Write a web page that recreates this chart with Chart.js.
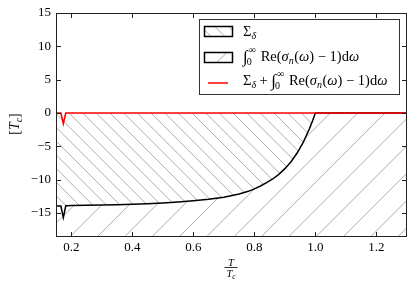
<!DOCTYPE html>
<html><head><meta charset="utf-8">
<script src="https://cdn.jsdelivr.net/npm/chart.js@4/dist/chart.umd.min.js"></script>
<style>html,body{margin:0;padding:0;background:#fff}canvas{display:block}</style>
</head><body>
<canvas id="c" width="415" height="282"></canvas>
<script>
// ---- data ----
const T = [0.15, 0.16, 0.166, 0.174, 0.182, 0.19, 0.2, 0.25, 0.3, 0.35, 0.4, 0.45, 0.5, 0.55, 0.6, 0.65, 0.7, 0.75, 0.78, 0.8, 0.82, 0.84, 0.86, 0.88, 0.9, 0.92, 0.94, 0.96, 0.98, 0.99, 1.0, 1.05, 1.1, 1.2, 1.3];
const sigmaDelta = [-13.95, -13.95, -13.95, -15.7, -13.92, -13.9, -13.88, -13.85, -13.8, -13.75, -13.68, -13.6, -13.5, -13.35, -13.15, -12.95, -12.65, -12.15, -11.75, -11.38, -10.95, -10.45, -9.9, -9.2, -8.35, -7.3, -6.0, -4.4, -2.4, -1.25, 0, 0, 0, 0, 0];
const total = [0, 0, 0, -1.6, 0, 0, 0, 0, 0, 0, 0, 0, 0, 0, 0, 0, 0, 0, 0, 0, 0, 0, 0, 0, 0, 0, 0, 0, 0, 0, 0, 0, 0, 0, 0];
const xTicks = [0.2, 0.4, 0.6, 0.8, 1.0, 1.2];
const yTicks = [-15, -10, -5, 0, 5, 10, 15];
const xRange = [0.15, 1.3];
const yRange = [-18.6, 15];

// ---- hatch patterns ----
function hatch(dir, n, phase) {
  const N = 82, p = N / n;
  const c = document.createElement('canvas');
  c.width = N; c.height = N;
  const g = c.getContext('2d');
  g.strokeStyle = '#adadad'; g.lineWidth = 1;
  g.beginPath();
  for (let k = -n - 2; k <= 2 * n + 2; k++) {
    const d = phase + k * p;
    if (dir === '/') { g.moveTo(d + 10, -10); g.lineTo(d - N - 10, N + 10); }
    else { g.moveTo(d - 10, -10); g.lineTo(d + N + 10, N + 10); }
  }
  g.stroke();
  return g.createPattern(c, 'repeat');
}
const ctx0 = document.getElementById('c').getContext('2d');
const hatchBack = hatch('\\', 6, 10.7);
const hatchFwd = hatch('/', 3, 6);

const SERIF = '"Liberation Serif", "DejaVu Serif", serif';

function drawRun(ctx, items, x, y, measureOnly) {
  let cx = x;
  for (const it of items) {
    ctx.font = (it.i ? 'italic ' : '') + it.s + 'px ' + SERIF;
    const w = ctx.measureText(it.t).width;
    if (!measureOnly) ctx.fillText(it.t, cx + (it.dx || 0), y + (it.dy || 0));
    if (!it.noAdvance) cx += w + (it.gap || 0);
  }
  return cx - x;
}

const fs = 14.5, ss = 10;
function integralRun() {
  return [
    {t: '\u222B', s: 17, dy: 1, gap: -1},
    {t: '\u221E', s: ss, dy: -8, noAdvance: true, dx: 2},
    {t: '0', s: ss, dy: 4},
    {t: '', s: ss, gap: 9},
    {t: 'Re(', s: fs},
    {t: '\u03C3', s: fs, i: true},
    {t: 'n', s: ss, i: true, dy: 3, gap: 0.5},
    {t: '(', s: fs},
    {t: '\u03C9', s: fs, i: true},
    {t: ') \u2212 1)d', s: fs},
    {t: '\u03C9', s: fs, i: true}
  ];
}
const sigmaRun = [
  {t: '\u03A3', s: fs},
  {t: '\u03B4', s: ss, i: true, dy: 3}
];

const decor = {
  id: 'decor',
  afterDatasetsDraw(chart) {
    const {ctx, chartArea: a, scales: {x, y}} = chart;
    ctx.save();
    ctx.strokeStyle = '#222'; ctx.lineWidth = 1;
    const L = Math.round(a.left) + 0.5, R = Math.round(a.right) - 0.5, Tp = Math.round(a.top) + 0.5, B = Math.round(a.bottom) - 0.5;
    ctx.strokeRect(L, Tp, R - L, B - Tp);
    ctx.beginPath();
    const tl = 4.5;
    xTicks.forEach(v => { const px = Math.round(x.getPixelForValue(v)) + 0.5; ctx.moveTo(px, B); ctx.lineTo(px, B - tl); ctx.moveTo(px, Tp); ctx.lineTo(px, Tp + tl); });
    yTicks.forEach(v => { const py = Math.round(y.getPixelForValue(v)) + 0.5; ctx.moveTo(L, py); ctx.lineTo(L + tl, py); ctx.moveTo(R, py); ctx.lineTo(R - tl, py); });
    ctx.stroke();
    ctx.restore();
  },
  afterDraw(chart) {
    const ctx = chart.ctx;
    ctx.save();
    ctx.textBaseline = 'alphabetic';
    ctx.textAlign = 'left';
    // legend box
    ctx.fillStyle = '#fff';
    ctx.fillRect(199.5, 19.5, 200, 75);
    ctx.strokeStyle = '#333'; ctx.lineWidth = 1;
    ctx.strokeRect(199.5, 19.5, 200, 75);
    // patches
    ctx.fillStyle = hatchBack; ctx.fillRect(204.5, 26.5, 28, 10);
    ctx.fillStyle = hatchFwd; ctx.fillRect(204.5, 52.5, 28, 10);
    ctx.strokeStyle = '#000'; ctx.lineWidth = 1.5;
    ctx.strokeRect(204.5, 26.5, 28, 10);
    ctx.strokeRect(204.5, 52.5, 28, 10);
    ctx.strokeStyle = '#ff0000'; ctx.lineWidth = 1.5;
    ctx.beginPath(); ctx.moveTo(208, 83); ctx.lineTo(228, 83); ctx.stroke();
    // legend text
    ctx.fillStyle = '#000';
    drawRun(ctx, sigmaRun, 243, 35.5);
    drawRun(ctx, integralRun(), 243, 61);
    const w1 = drawRun(ctx, sigmaRun.concat([{t: '', s: fs, gap: 3.5}, {t: '+', s: fs, gap: 3.5}]), 243, 85);
    drawRun(ctx, integralRun(), 243 + w1, 85);
    // y title [T_c]
    const yt = [{t: '[', s: 14}, {t: 'T', s: 14, i: true}, {t: 'c', s: ss, i: true, dy: 3}, {t: ']', s: 14}];
    ctx.save();
    ctx.translate(19, 124); ctx.rotate(-Math.PI / 2);
    const wy = drawRun(ctx, yt, 0, 0, true);
    drawRun(ctx, yt, -wy / 2, 0);
    ctx.restore();
    // x title T / T_c
    const top = [{t: 'T', s: 10.5, i: true}];
    const bot = [{t: 'T', s: 10.5, i: true}, {t: 'c', s: 7.5, i: true, dy: 2}];
    const cxm = 231;
    const wt = drawRun(ctx, top, 0, 0, true);
    drawRun(ctx, top, cxm - wt / 2, 265.5);
    const wb = drawRun(ctx, bot, 0, 0, true);
    drawRun(ctx, bot, cxm - wb / 2, 276.5);
    ctx.strokeStyle = '#000'; ctx.lineWidth = 0.8;
    ctx.beginPath(); ctx.moveTo(cxm - 6.5, 267.5); ctx.lineTo(cxm + 6.5, 267.5); ctx.stroke();
    ctx.restore();
  }
};

const fmtY = v => (v < 0 ? '\u2212' : '') + Math.abs(v).toString();
const fmtX = v => v.toFixed(1);

new Chart(ctx0, {
  type: 'line',
  data: {
    labels: T,
    datasets: [
      {label: 'integral', data: T.map((t, i) => ({x: t, y: sigmaDelta[i]})), borderWidth: 0, borderColor: 'rgba(0,0,0,0)', pointRadius: 0, fill: 'start', backgroundColor: hatchFwd, tension: 0, order: 3},
      {label: 'sigma', data: T.map((t, i) => ({x: t, y: sigmaDelta[i]})), borderWidth: 1.5, borderColor: '#000', pointRadius: 0, fill: {value: 0}, backgroundColor: hatchBack, tension: 0, order: 2},
      {label: 'total', data: T.map((t, i) => ({x: t, y: total[i]})), borderWidth: 1.6, borderColor: '#ff0000', pointRadius: 0, fill: false, tension: 0, order: 1}
    ]
  },
  options: {
    responsive: false, animation: false, devicePixelRatio: 1,
    layout: {padding: {left: 0, right: 8, top: 13, bottom: 0}},
    plugins: {legend: {display: false}, tooltip: {enabled: false}},
    scales: {
      x: {
        type: 'linear', min: xRange[0], max: xRange[1],
        grid: {display: false, drawTicks: false}, border: {display: false},
        ticks: {font: {family: SERIF, size: 13}, color: '#000', padding: 3, includeBounds: false, callback: v => fmtX(v), maxRotation: 0},
        afterBuildTicks: s => { s.ticks = xTicks.map(v => ({value: v})); },
        afterFit: s => { s.height = 45; }
      },
      y: {
        type: 'linear', min: yRange[0], max: yRange[1],
        grid: {display: false, drawTicks: false}, border: {display: false},
        ticks: {font: {family: SERIF, size: 13}, color: '#000', padding: 5, includeBounds: false, callback: v => fmtY(v)},
        afterBuildTicks: s => { s.ticks = yTicks.map(v => ({value: v})); },
        afterFit: s => { s.width = 56; }
      }
    }
  },
  plugins: [decor]
});
</script>
</body></html>
